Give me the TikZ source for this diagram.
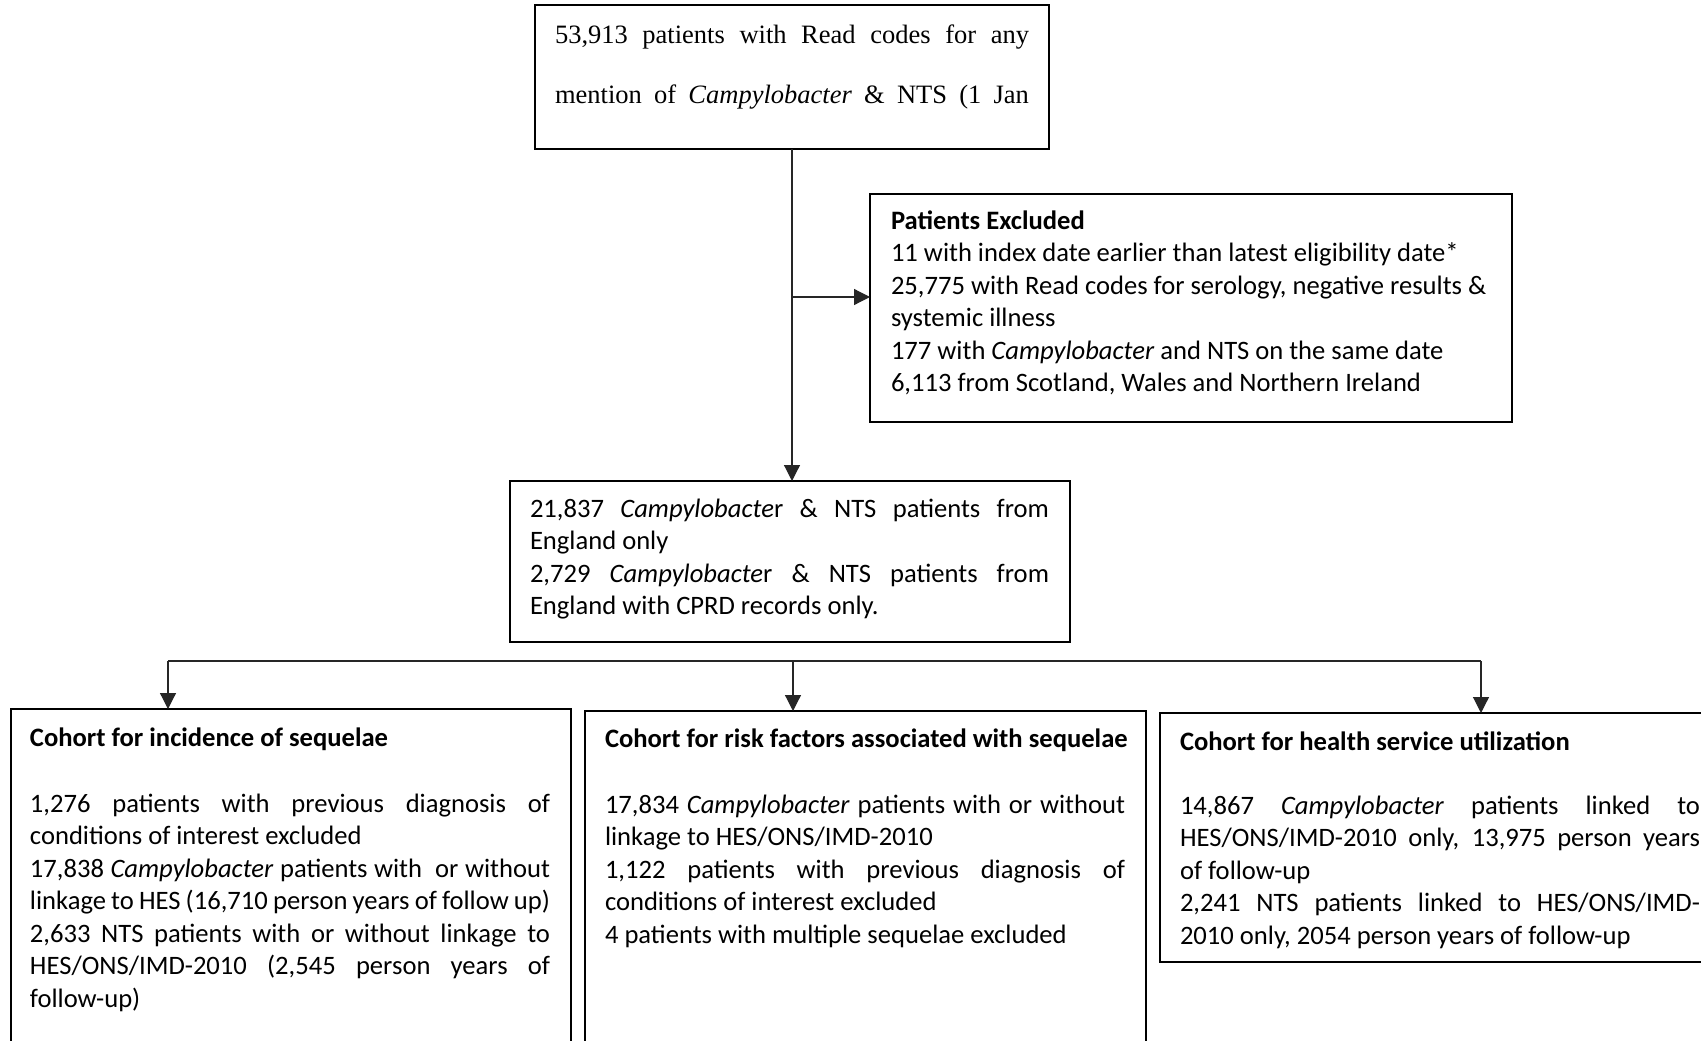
\documentclass[tikz,border=0pt]{standalone}
\usepackage{fontspec}
\setmainfont{Carlito}
\newfontfamily\timesfont{Liberation Serif}
\usetikzlibrary{arrows.meta}
\begin{document}
\begin{tikzpicture}[x=1pt,y=-1pt,
  box/.style={draw=black,line width=1.7pt,inner sep=0pt,outer sep=0pt,anchor=north west},
  conn/.style={draw=black!85,line width=1.2pt},
  arr/.style={conn,-{Triangle[length=16pt,width=16pt]}},
  txt/.style={inner sep=0pt,outer sep=0pt,anchor=base west,font=\fontsize{26.6}{32.5}\selectfont},
  tline/.style={inner sep=0pt,outer sep=0pt,anchor=base west,font=\timesfont\fontsize{26.5}{30}\selectfont}]
\path[use as bounding box] (0,0) rectangle (1701,1041);
\clip (0,0) rectangle (1701,1041);
\fill[white] (0,0) rectangle (1701,1041);
% boxes
\node[box,minimum width=514pt,minimum height=144pt] (top) at (535,5) {};
\node[box,minimum width=642pt,minimum height=228pt] (excl) at (870,194) {};
\node[box,minimum width=560pt,minimum height=161pt] (mid) at (510,481) {};
\node[box,minimum width=560pt,minimum height=360pt] (c1) at (11,709) {};
\node[box,minimum width=561pt,minimum height=360pt] (c2) at (585,711) {};
\node[box,minimum width=580pt,minimum height=249pt] (c3) at (1160,713) {};
% top text
\node[tline] (t1) at (555,44) {\makebox[474pt][s]{53,913 patients with Read codes for any}};
\node[tline] (t2) at (555,103) {\makebox[474pt][s]{mention of \textit{Campylobacter} \& NTS (1 Jan}};
% excluded text
\node[txt] (e0) at (891,229) {\textbf{Patients Excluded}};
\node[txt] (e1) at (891,261.5) {11 with index date earlier than latest eligibility date*};
\node[txt] (e2) at (891,294) {25,775 with Read codes for serology, negative results \&};
\node[txt] (e3) at (891,326.5) {systemic illness};
\node[txt] (e4) at (891,359) {177 with \textit{Campylobacter} and NTS on the same date};
\node[txt] (e5) at (891,391.5) {6,113 from Scotland, Wales and Northern Ireland};
% middle text
\node[txt] (m1) at (530,517) {\makebox[519pt][s]{21,837 \textit{Campylobacte}r \& NTS patients from}};
\node[txt] (m2) at (530,549.5) {England only};
\node[txt] (m3) at (530,582) {\makebox[519pt][s]{2,729 \textit{Campylobacte}r \& NTS patients from}};
\node[txt] (m4) at (530,614.5) {England with CPRD records only.};
% cohort 1
\node[txt] (a0) at (30,746) {\textbf{Cohort for incidence of sequelae}};
\node[txt] (a1) at (30,812) {\makebox[520pt][s]{1,276 patients with previous diagnosis of}};
\node[txt] (a2) at (30,844.5) {conditions of interest excluded};
\node[txt] (a3) at (30,877) {\makebox[520pt][s]{17,838 \textit{Campylobacter} patients with\ \ or without}};
\node[txt] (a4) at (30,909.5) {\makebox[520pt][s]{linkage to HES (16,710 person years of follow up)}};
\node[txt] (a5) at (30,942) {\makebox[520pt][s]{2,633 NTS patients with or without linkage to}};
\node[txt] (a6) at (30,974.5) {\makebox[520pt][s]{HES/ONS/IMD-2010 (2,545 person years of}};
\node[txt] (a7) at (30,1007) {follow-up)};
% cohort 2
\node[txt] (b0) at (605,747) {\textbf{Cohort for risk factors associated with sequelae}};
\node[txt] (b1) at (605,813) {\makebox[520pt][s]{17,834 \textit{Campylobacter} patients with or without}};
\node[txt] (b2) at (605,845.5) {linkage to HES/ONS/IMD-2010};
\node[txt] (b3) at (605,878) {\makebox[520pt][s]{1,122 patients with previous diagnosis of}};
\node[txt] (b4) at (605,910.5) {conditions of interest excluded};
\node[txt] (b5) at (605,943) {4 patients with multiple sequelae excluded};
% cohort 3
\node[txt] (r0) at (1180,750) {\textbf{Cohort for health service utilization}};
\node[txt] (r1) at (1180,814) {\makebox[520pt][s]{14,867 \textit{Campylobacter} patients linked to}};
\node[txt] (r2) at (1180,846.5) {\makebox[520pt][s]{HES/ONS/IMD-2010 only, 13,975 person years}};
\node[txt] (r3) at (1180,879) {of follow-up};
\node[txt] (r4) at (1180,911.5) {\makebox[520pt][s]{2,241 NTS patients linked to HES/ONS/IMD-}};
\node[txt] (r5) at (1180,944) {2010 only, 2054 person years of follow-up};
% connectors
\draw[arr] (top.south) -- (top.south |- mid.north);
\coordinate (br) at (791,297);
\draw[arr] (br) -- (br -| excl.west);
\coordinate (busL) at (168,661);
\coordinate (busM) at (793,661);
\coordinate (busR) at (1481,661);
\draw[conn] (busL) -- (busR);
\draw[arr] (busL) -- (busL |- c1.north);
\draw[arr] (busM) -- (busM |- c2.north);
\draw[arr] (busR) -- (busR |- c3.north);
\end{tikzpicture}
\end{document}
